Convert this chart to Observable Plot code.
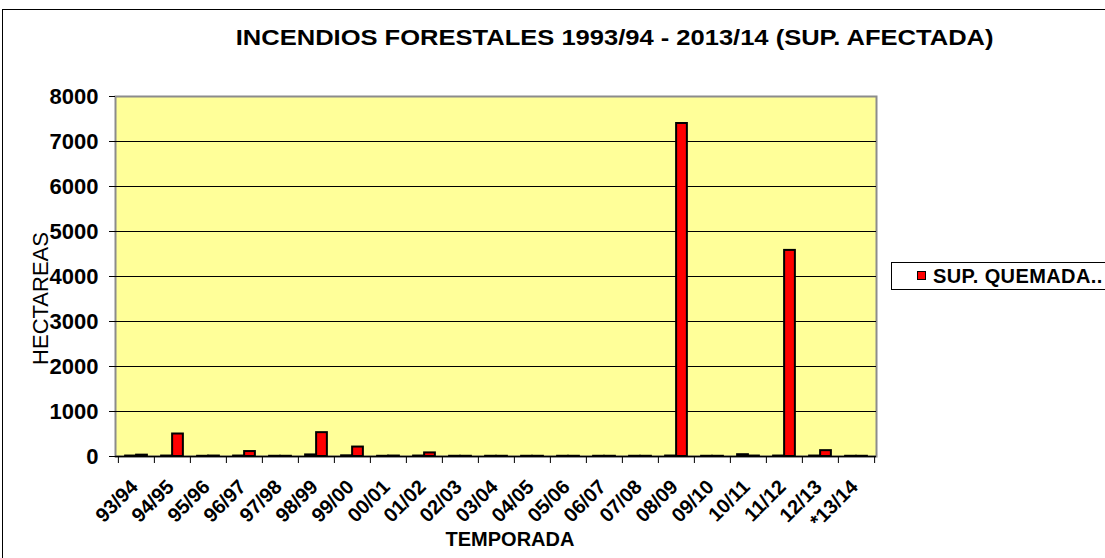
<!DOCTYPE html>
<html>
<head>
<meta charset="utf-8">
<script src="https://cdn.jsdelivr.net/npm/d3@7"></script>
<script src="https://cdn.jsdelivr.net/npm/@observablehq/plot@0.6"></script>
<style>
  body { margin: 0; background: #fff; font-family: "Liberation Sans", Arial, sans-serif; }
  #wrap { position: relative; width: 1105px; height: 558px; overflow: hidden; }
  #border { position: absolute; left: 2px; top: 9px; width: 1300px; height: 700px; border: 1px solid #000; box-sizing: border-box; pointer-events: none; }
  #title { position: relative; height: 70px; width: 1230px; text-align: center; font-weight: bold; font-size: 22px; line-height: 24px; padding-top: 26px; box-sizing: border-box; white-space: nowrap; }
  #title span { display: inline-block; transform: scaleX(1.16); transform-origin: center; }
  #chart { position: absolute; left: 0; top: 70px; }
  #legend { position: absolute; left: 891px; top: 262px; width: 260px; height: 28px; border: 1px solid #000; background: #fff; box-sizing: border-box; font-weight: bold; font-size: 20px; white-space: nowrap; }
  #legend .sw { position: absolute; left: 25px; top: 8px; width: 9px; height: 9px; border: 1.5px solid #000; box-sizing: border-box; }
  #legend .lb { position: absolute; left: 41px; top: 2px; line-height: 22px; letter-spacing: 0.4px; }
</style>
</head>
<body>
<div id="wrap">
  <div id="border"></div>
  <div id="title"><span></span></div>
  <div id="chart"></div>
  <div id="legend"><span class="sw"></span><span class="lb"></span></div>
</div>
<script>
// ---- data ----
const chartTitle = "INCENDIOS FORESTALES 1993/94 - 2013/14 (SUP. AFECTADA)";
const seasons = ["93/94","94/95","95/96","96/97","97/98","98/99","99/00","00/01","01/02","02/03","03/04","04/05","05/06","06/07","07/08","08/09","09/10","10/11","11/12","12/13","*13/14"];
// series shown in legend (red bars), hectares
const supQuemada = [30, 500, 10, 110, 5, 530, 210, 10, 80, 5, 5, 5, 5, 5, 5, 7400, 5, 10, 4580, 130, 5];
// second (unlabelled) series drawn to the left of each red bar
const otraSerie = [10, 10, 5, 10, 5, 35, 15, 5, 10, 5, 5, 5, 5, 5, 5, 10, 5, 40, 10, 10, 5];
const yTicks = [0, 1000, 2000, 3000, 4000, 5000, 6000, 7000, 8000];
const legendLabel = "SUP. QUEMADA..";
const yLabel = "HECTAREAS";
const xLabel = "TEMPORADA";
const colorSup = "#FF0000";
const colorOtra = "#000080";

const data = seasons.map((s, i) => ({season: s, sup: supQuemada[i], otra: otraSerie[i]}));

const W = 1105, H = 488;
const mL = 115, mR = 229, mT = 26, mB = 102;
const bw = (W - mL - mR) / seasons.length;
const barW = 11;
const outer = bw / 2 - barW;

document.querySelector("#title span").textContent = chartTitle;
document.querySelector("#legend .sw").style.background = colorSup;
document.querySelector("#legend .lb").textContent = legendLabel;

const chart = Plot.plot({
  width: W,
  height: H,
  marginLeft: mL,
  marginRight: mR,
  marginTop: mT,
  marginBottom: mB,
  style: {fontFamily: "Liberation Sans, Arial, sans-serif", fontWeight: "bold", fontSize: "19px", color: "#000", background: "transparent", overflow: "visible"},
  x: {domain: seasons, padding: 0, label: null, axis: null},
  y: {domain: [0, 8000], label: null, axis: null},
  marks: [
    Plot.frame({fill: "#FFFF99", stroke: "#8c8c8c", strokeWidth: 2}),
    Plot.gridY(yTicks.filter(d => d > 0 && d < 8000), {stroke: "#000", strokeOpacity: 1, strokeWidth: 1}),
    Plot.barY(data, {x: "season", y: "otra", fill: colorOtra, stroke: "#000", strokeWidth: 2, insetLeft: outer, insetRight: bw / 2}),
    Plot.barY(data, {x: "season", y: "sup", fill: colorSup, stroke: "#000", strokeWidth: 2, insetLeft: bw / 2, insetRight: outer}),
    Plot.ruleY([0], {stroke: "#000", strokeWidth: 1.5}),
    Plot.axisY({ticks: yTicks, tickSize: 6, tickPadding: 11, fontSize: 22, tickFormat: d => String(d), label: null}),
    Plot.axisX({ticks: seasons, tickSize: 7, tickFormat: () => "", dx: -bw / 2, label: null}),
    Plot.axisX({ticks: [seasons[seasons.length - 1]], tickSize: 7, tickFormat: () => "", dx: bw / 2, label: null}),
    Plot.axisX({ticks: seasons, tickSize: 0, tickPadding: 27, tickRotate: -45, fontSize: 20, dx: -2, label: null}),
    Plot.text([yLabel], {text: d => d, frameAnchor: "left", textAnchor: "middle", lineAnchor: "middle", rotate: -90, dx: -75, dy: 22, fontSize: 22, fontWeight: "normal"}),
    Plot.text([xLabel], {text: d => d, frameAnchor: "bottom", textAnchor: "middle", dx: 14, dy: 89, fontSize: 20, fontWeight: "bold"})
  ]
});
document.getElementById("chart").appendChild(chart);
</script>
</body>
</html>
